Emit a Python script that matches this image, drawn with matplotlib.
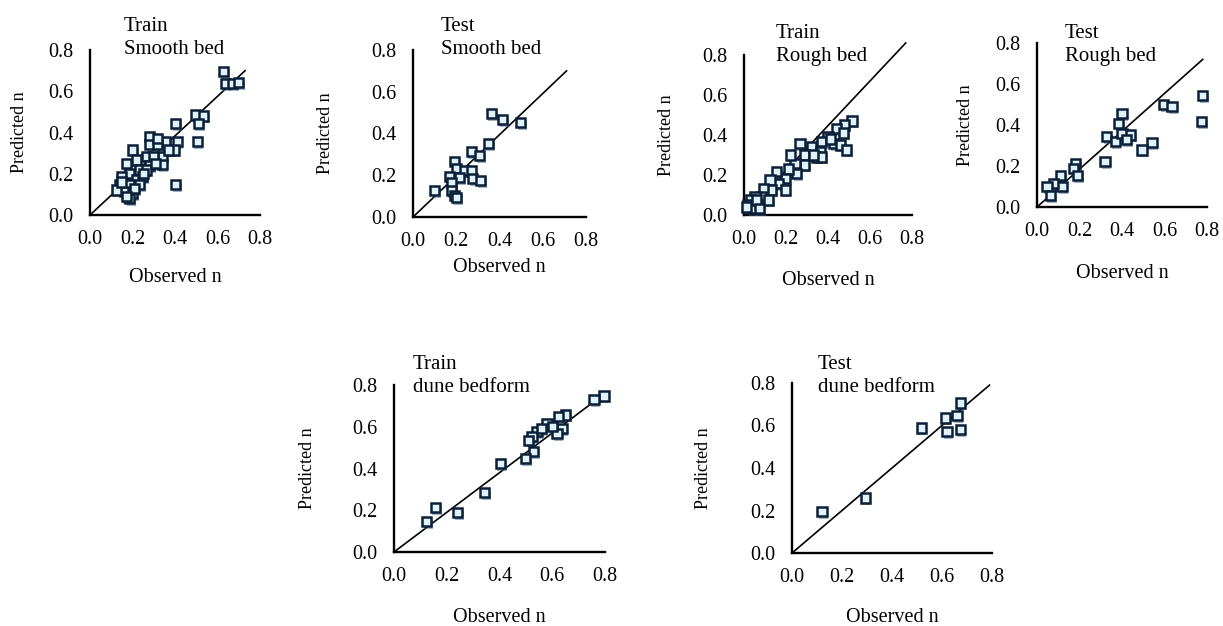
import matplotlib
matplotlib.use("Agg")
import matplotlib.pyplot as plt
import matplotlib.patheffects as pe

plt.rcParams['font.family'] = ['Liberation Serif', 'DejaVu Serif']

W, H = 1223, 626

# ---------------- data ----------------
train_smooth_obs = [0.628, 0.636, 0.67, 0.70, 0.496, 0.535, 0.51, 0.504, 0.403, 0.41, 0.403, 0.395,
                    0.357, 0.28, 0.28, 0.318, 0.34, 0.34, 0.20, 0.217, 0.264, 0.30, 0.233, 0.28,
                    0.171, 0.186, 0.147, 0.217, 0.248, 0.14, 0.186, 0.233, 0.163, 0.20, 0.124,
                    0.186, 0.264, 0.31, 0.37, 0.318, 0.15, 0.21, 0.17, 0.25]
train_smooth_pred = [0.696, 0.636, 0.636, 0.642, 0.485, 0.48, 0.445, 0.356, 0.445, 0.356, 0.146, 0.315,
                     0.356, 0.38, 0.34, 0.34, 0.283, 0.243, 0.315, 0.267, 0.283, 0.283, 0.218, 0.24,
                     0.251, 0.202, 0.186, 0.17, 0.186, 0.146, 0.146, 0.146, 0.113, 0.105, 0.121,
                     0.081, 0.218, 0.25, 0.315, 0.37, 0.16, 0.13, 0.09, 0.2]

test_smooth_obs = [0.362, 0.415, 0.497, 0.349, 0.269, 0.308, 0.192, 0.20, 0.238, 0.269, 0.169, 0.215,
                   0.277, 0.312, 0.177, 0.10, 0.177, 0.192, 0.20]
test_smooth_pred = [0.496, 0.467, 0.453, 0.352, 0.315, 0.296, 0.264, 0.232, 0.224, 0.22, 0.195, 0.19,
                    0.184, 0.176, 0.165, 0.128, 0.128, 0.104, 0.095]

train_rough_obs = [0.514, 0.48, 0.44, 0.474, 0.40, 0.37, 0.426, 0.46, 0.49, 0.267, 0.323, 0.363, 0.347,
                   0.29, 0.29, 0.243, 0.25, 0.21, 0.196, 0.156, 0.164, 0.124, 0.132, 0.092, 0.084,
                   0.116, 0.052, 0.029, 0.068, 0.016, 0.036, 0.196, 0.37, 0.22, 0.013, 0.06, 0.073,
                   0.33, 0.41]
train_rough_pred = [0.47, 0.45, 0.433, 0.41, 0.39, 0.367, 0.358, 0.35, 0.325, 0.358, 0.34, 0.317, 0.29,
                    0.30, 0.25, 0.258, 0.208, 0.23, 0.183, 0.217, 0.158, 0.175, 0.125, 0.133, 0.092,
                    0.075, 0.092, 0.075, 0.05, 0.05, 0.033, 0.125, 0.29, 0.30, 0.04, 0.075, 0.033,
                    0.30, 0.38]

test_rough_obs = [0.78, 0.773, 0.596, 0.635, 0.40, 0.384, 0.329, 0.368, 0.40, 0.44, 0.42, 0.541, 0.494,
                  0.32, 0.18, 0.172, 0.19, 0.11, 0.118, 0.078, 0.047, 0.063]
test_rough_pred = [0.542, 0.416, 0.498, 0.49, 0.457, 0.408, 0.343, 0.318, 0.36, 0.351, 0.33, 0.313, 0.278,
                   0.22, 0.212, 0.188, 0.155, 0.155, 0.098, 0.114, 0.098, 0.057]

train_dune_obs = [0.796, 0.758, 0.65, 0.625, 0.637, 0.618, 0.58, 0.542, 0.523, 0.51, 0.53, 0.498, 0.403,
                  0.343, 0.241, 0.157, 0.123, 0.56, 0.60]
train_dune_pred = [0.747, 0.731, 0.656, 0.651, 0.592, 0.568, 0.616, 0.576, 0.552, 0.536, 0.48, 0.449,
                   0.425, 0.284, 0.188, 0.214, 0.145, 0.59, 0.60]

test_dune_obs = [0.673, 0.66, 0.613, 0.62, 0.673, 0.517, 0.293, 0.12]
test_dune_pred = [0.706, 0.646, 0.635, 0.572, 0.58, 0.588, 0.259, 0.196]

# reference line end points (observed, predicted)
line_ends = [(0.73, 0.70), (0.71, 0.70), (0.77, 0.86), (0.78, 0.72), (0.80, 0.76), (0.79, 0.79)]

titles = ["Train\nSmooth bed", "Test\nSmooth bed", "Train\nRough bed", "Test\nRough bed",
          "Train\ndune bedform", "Test\ndune bedform"]
ticks = [0.0, 0.2, 0.4, 0.6, 0.8]
tick_labels = ["0.0", "0.2", "0.4", "0.6", "0.8"]

# ---------------- layout (pixel boxes: left, top, right, bottom) ----------------
boxes = [(90, 50, 260, 215), (413, 50, 586, 217), (744, 55, 912, 215), (1037, 43, 1207, 207),
         (394, 385, 605, 552), (792, 383, 992, 553)]
title_pos = [(0.2, 1.20), (0.16, 1.20), (0.19, 1.195), (0.165, 1.115), (0.09, 1.18), (0.13, 1.165)]
ylab_off = [70, 88, 77, 72, 87, 89]
xlab_off = [62, 50, 65, 66, 65, 64]

series = [(train_smooth_obs, train_smooth_pred), (test_smooth_obs, test_smooth_pred),
          (train_rough_obs, train_rough_pred), (test_rough_obs, test_rough_pred),
          (train_dune_obs, train_dune_pred), (test_dune_obs, test_dune_pred)]

fig = plt.figure(figsize=(W / 100, H / 100), dpi=100)
fig.patch.set_facecolor('white')

shadow = [pe.SimplePatchShadow(offset=(1.2, -2.0), shadow_rgbFace='#3d6690', alpha=0.5), pe.Normal()]

for i, (box, (xo, yp)) in enumerate(zip(boxes, series)):
    l, t, r, b = box
    ax = fig.add_axes([l / W, 1 - b / H, (r - l) / W, (b - t) / H])
    ax.set_xlim(0, 0.8)
    ax.set_ylim(0, 0.8)
    for s in ['top', 'right']:
        ax.spines[s].set_visible(False)
    for s in ['left', 'bottom']:
        ax.spines[s].set_linewidth(1.7)
        ax.spines[s].set_color('black')
    ax.set_xticks(ticks)
    ax.set_xticklabels(tick_labels)
    ax.set_yticks(ticks)
    ax.set_yticklabels(tick_labels)
    ax.tick_params(axis='x', length=0, labelsize=14.5, pad=11)
    ax.tick_params(axis='y', length=0, labelsize=14.5, pad=12)
    lx, ly = line_ends[i]
    ax.plot([0, lx], [0, ly], color='black', lw=1.2, clip_on=False, zorder=2)
    ax.plot(xo, yp, linestyle='none', marker='s', markersize=6.6, markerfacecolor='#e2f2fa',
            markeredgecolor='#0b2038', markeredgewidth=1.8, clip_on=False, zorder=3,
            path_effects=shadow)
    ax.text(title_pos[i][0], title_pos[i][1], titles[i], transform=ax.transAxes, ha='left', va='top',
            fontsize=15, linespacing=1.3)
    ax.set_xlabel("Observed n", fontsize=14.5)
    ax.set_ylabel("Predicted n", fontsize=13)
    ax.xaxis.set_label_coords(0.5, -xlab_off[i] / (b - t))
    ax.yaxis.set_label_coords(-ylab_off[i] / (r - l), 0.5)
    ax.xaxis.label.set_va('center')
    ax.yaxis.label.set_va('center')

fig.savefig("out.png", dpi=100, facecolor='white')
